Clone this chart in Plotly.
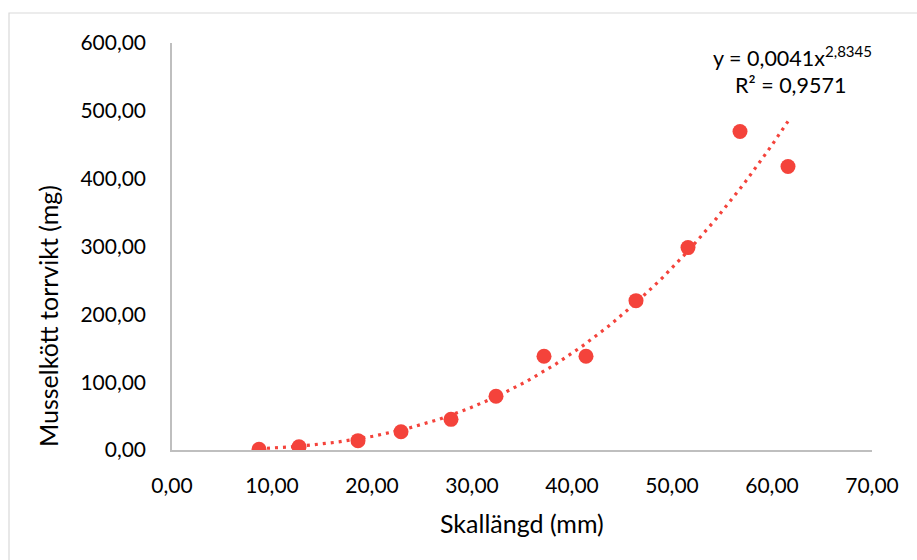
import numpy as np
import plotly.graph_objects as go

# Data
shell_length_mm = [8.7, 12.7, 18.6, 22.9, 27.9, 32.4, 37.2, 41.4, 46.4, 51.6, 56.8, 61.6]
dry_weight_mg = [1.0, 4.9, 13.8, 27.0, 45.2, 79.2, 138.2, 138.2, 220.2, 298.4, 469.5, 417.9]

# Power trendline as stated on the chart: y = A * x^B
TREND_A = 0.0041
TREND_B = 2.8345
EQ_TEXT = "y = 0,0041x<sup>2,8345</sup>"
R2_TEXT = "R² = 0,9571"

x_tickvals = [0, 10, 20, 30, 40, 50, 60, 70]
x_ticktext = ["0,00", "10,00", "20,00", "30,00", "40,00", "50,00", "60,00", "70,00"]
y_tickvals = [0, 100, 200, 300, 400, 500, 600]
y_ticktext = ["0,00", "100,00", "200,00", "300,00", "400,00", "500,00", "600,00"]

X_TITLE = "Skallängd (mm)"
Y_TITLE = "Musselkött torrvikt (mg)"

RED = "#F4433B"
AXIS = "#BFBFBF"
FONT = "Lato"

tx = np.linspace(min(shell_length_mm), max(shell_length_mm), 200)
ty = TREND_A * tx ** TREND_B

fig = go.Figure()
fig.add_trace(go.Scatter(
    x=tx, y=ty, mode="lines",
    line=dict(color=RED, width=3.2, dash="3px,5px"),
    hoverinfo="skip", showlegend=False,
))
fig.add_trace(go.Scatter(
    x=shell_length_mm, y=dry_weight_mg, mode="markers",
    marker=dict(color=RED, size=15, line=dict(width=0)),
    showlegend=False,
))

W, H = 917, 560
L, R, T, B = 172, 45, 43, 110
pw, ph = W - L - R, H - T - B


def px_x(p):
    return (p - L) / pw


def px_y(p):
    return (H - B - p) / ph


fig.update_layout(
    width=W, height=H,
    margin=dict(l=L, r=R, t=T, b=B, pad=0),
    paper_bgcolor="white", plot_bgcolor="white",
    font=dict(family=FONT, size=21, color="#000000"),
    xaxis=dict(
        range=[0, 70], tickvals=x_tickvals, ticktext=x_ticktext,
        showgrid=False, zeroline=False, showline=True, linecolor=AXIS, linewidth=1.5,
        ticks="", ticklabelstandoff=16, tickfont=dict(size=21),
    ),
    yaxis=dict(
        range=[0, 600], tickvals=y_tickvals, ticktext=y_ticktext,
        showgrid=False, zeroline=False, showline=True, linecolor=AXIS, linewidth=1.5,
        ticks="", ticklabelstandoff=20, tickfont=dict(size=21),
    ),
    shapes=[dict(
        type="rect", xref="paper", yref="paper",
        x0=px_x(9), x1=px_x(940), y0=px_y(13), y1=px_y(590),
        line=dict(color="#D9D9D9", width=1.2), fillcolor="rgba(0,0,0,0)", layer="below",
    )],
    annotations=[
        dict(text=X_TITLE, xref="paper", yref="paper", x=px_x(522), y=px_y(523),
             showarrow=False, xanchor="center", yanchor="middle", font=dict(size=25)),
        dict(text=Y_TITLE, xref="paper", yref="paper", x=px_x(48), y=px_y(316),
             showarrow=False, xanchor="center", yanchor="middle", textangle=-90,
             font=dict(size=25)),
        dict(text=EQ_TEXT, xref="paper", yref="paper", x=px_x(792), y=px_y(57),
             showarrow=False, xanchor="center", yanchor="middle", font=dict(size=21.5)),
        dict(text=R2_TEXT, xref="paper", yref="paper", x=px_x(790), y=px_y(85),
             showarrow=False, xanchor="center", yanchor="middle", font=dict(size=21.5)),
    ],
)

fig.write_html("out.html", config={"displayModeBar": False},
               post_script="document.body.style.margin='0';")
